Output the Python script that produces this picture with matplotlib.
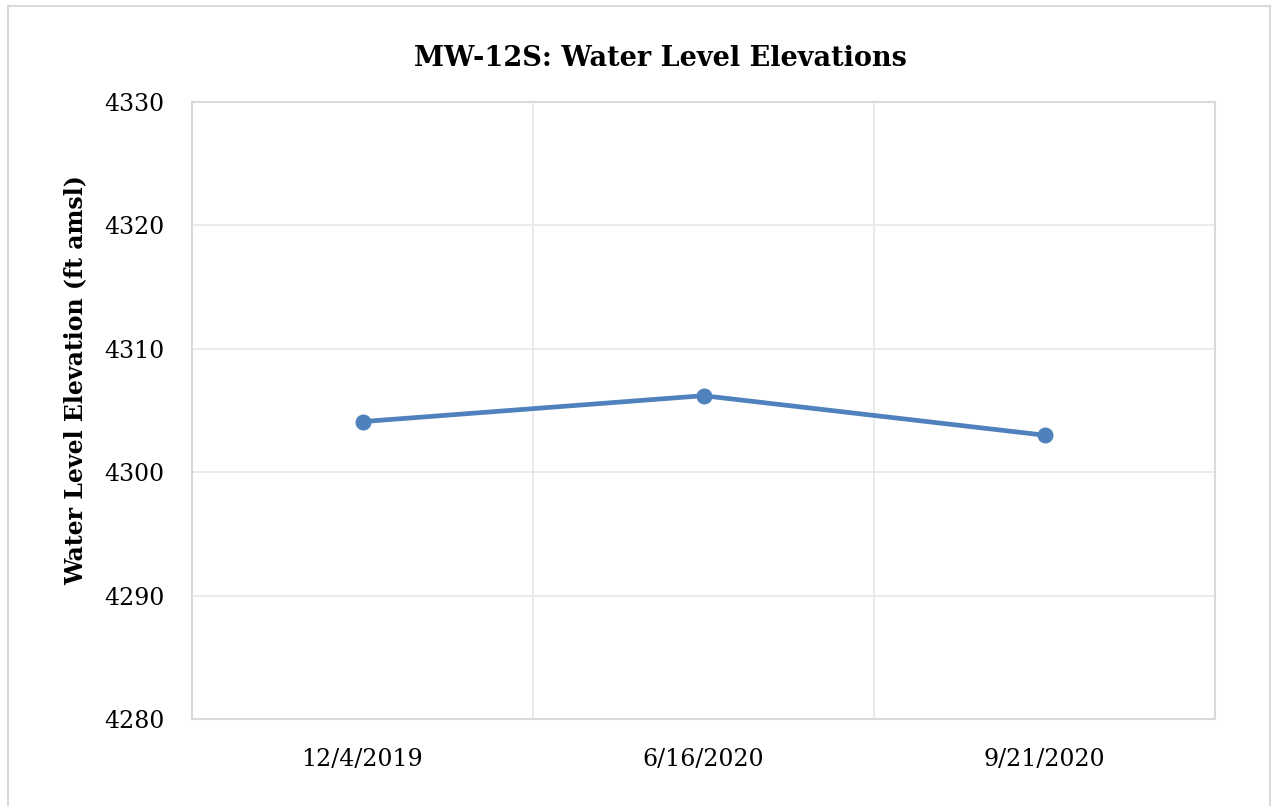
import matplotlib.pyplot as plt
import matplotlib.patches as mpatches

plt.rcParams['font.family'] = ['DejaVu Serif']

# Water level elevations (ft amsl) for well MW-12S
dates = ['12/4/2019', '6/16/2020', '9/21/2020']
elevations = [4304.1, 4306.2, 4303.0]
y_ticks = [4280, 4290, 4300, 4310, 4320, 4330]

line_color = '#4F81BD'
grid_color = '#E8E8E8'
frame_color = '#D9D9D9'

fig = plt.figure(figsize=(12.73, 8.06), dpi=100)
W, H = 1273, 806

# plot area in pixel terms -> figure fractions
left, top, right, bottom = 192, 102, 1215, 719
ax = fig.add_axes([left / W, 1 - bottom / H, (right - left) / W, (bottom - top) / H])

x = list(range(len(dates)))
ax.plot(x, elevations, color=line_color, linewidth=3.4, marker='o',
        markersize=10.5, solid_capstyle='round', zorder=3)

ax.set_xlim(-0.5, len(dates) - 0.5)
ax.set_ylim(y_ticks[0], y_ticks[-1])
ax.set_yticks(y_ticks)
ax.set_xticks(x)
ax.set_xticklabels(dates)

# horizontal gridlines at ticks, vertical ones between categories
for yv in y_ticks[1:-1]:
    ax.axhline(yv, color=grid_color, linewidth=1.3, zorder=1)
for xv in [i + 0.5 for i in x[:-1]]:
    ax.axvline(xv, color=grid_color, linewidth=1.3, zorder=1)

for s in ax.spines.values():
    s.set_color(frame_color)
    s.set_linewidth(1.5)

ax.tick_params(axis='both', length=0, labelsize=17, colors='black')
ax.tick_params(axis='y', pad=20)
ax.tick_params(axis='x', pad=21)

fig.text(660 / W, 1 - 58 / H, 'MW-12S: Water Level Elevations',
         ha='center', va='center', fontsize=19.5, fontweight='bold')
fig.text(75 / W, 1 - 380 / H, 'Water Level Elevation (ft amsl)',
         ha='center', va='center', rotation=90, fontsize=17, fontweight='bold')

# outer chart border
fig.patches.append(mpatches.Rectangle((8 / W, -0.05), (1270 - 8) / W, 1 - 6 / H + 0.05,
                                      transform=fig.transFigure, fill=False,
                                      edgecolor=frame_color, linewidth=1.5))

fig.savefig('out.png', dpi=100)
